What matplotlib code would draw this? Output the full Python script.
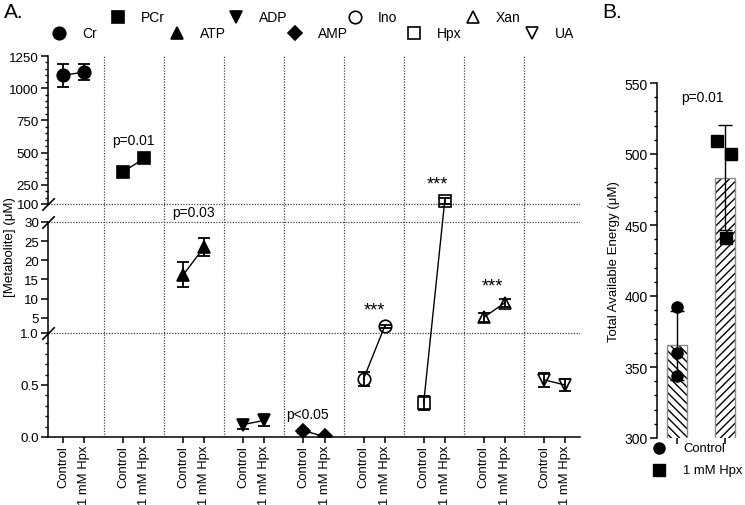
import numpy as np
import matplotlib
matplotlib.use('Agg')
import matplotlib.pyplot as plt
from matplotlib.lines import Line2D

plt.rcParams['font.family'] = ['Liberation Sans', 'DejaVu Sans']
plt.rcParams['font.size'] = 10

# --- panel A data : mean / sd per metabolite (uM)
metabolites = ['Cr', 'PCr', 'ATP', 'ADP', 'AMP', 'Ino', 'Hpx', 'Xan', 'UA']
markers = ['o', 's', '^', 'v', 'D', 'o', 's', '^', 'v']
filled = [True, True, True, True, True, False, False, False, False]
conditions = ['Control', '1 mM Hpx']
ctrl_mean = [1100, 350, 16.2, 0.12, 0.06, 0.56, 0.33, 5.1, 0.55]
ctrl_sd = [90, 30, 3.3, 0.045, 0.02, 0.065, 0.066, 1.1, 0.07]
hpx_mean = [1125, 455, 23.5, 0.16, 0.005, 2.7, 125, 8.9, 0.50]
hpx_sd = [62, 30, 2.3, 0.05, 0.005, 0.4, 25, 1.0, 0.06]

# --- panel B data : total available energy (uM), one value per sample
energy_ctrl = [392, 360, 344]
energy_hpx = [509, 500, 441]

# broken y axis of panel A : piecewise linear scale
brk_val = [0, 1, 30, 100, 1250]
brk_pos = [0, 104, 215, 233, 381]


def fwd(v):
    v = np.asarray(v, float)
    out = np.interp(v, brk_val, brk_pos)
    out = np.where(v < 0, v * 104, out)
    out = np.where(v > 1250, 381 + (v - 1250) * 148 / 1150, out)
    return out


def inv(p):
    p = np.asarray(p, float)
    out = np.interp(p, brk_pos, brk_val)
    out = np.where(p < 0, p / 104, out)
    out = np.where(p > 381, 1250 + (p - 381) * 1150 / 148, out)
    return out


W, H = 745, 506
fig = plt.figure(figsize=(W / 100, H / 100), dpi=100)
axA = fig.add_axes([48 / W, 1 - 438 / H, 532 / W, 381 / H])
axB = fig.add_axes([657 / W, 1 - 439 / H, 88 / W, 355 / H])

# ---------------- panel A
axA.set_yscale('function', functions=(fwd, inv))
axA.set_ylim(0, 1250)
gap = 0.35
axA.set_xlim(-0.25, len(metabolites) - 1 + 0.6)

dot = dict(color='#444444', lw=0.9, ls=(0, (1, 1.2)), zorder=1)
for v in [1, 30, 100]:
    axA.axhline(v, **dot)
for i in range(len(metabolites) - 1):
    axA.axvline(i + (1 + gap) / 2, **dot)

xt = []
for i, name in enumerate(metabolites):
    xs = [i, i + gap]
    ys = [ctrl_mean[i], hpx_mean[i]]
    axA.plot(xs, ys, color='black', lw=1, zorder=2)
    axA.errorbar(xs, ys, yerr=[ctrl_sd[i], hpx_sd[i]], fmt='none', ecolor='black',
                 elinewidth=1.3, capsize=4.5, capthick=1.3, zorder=3)
    ms = 7 if markers[i] == 'D' else 9
    axA.plot(xs, ys, ls='none', marker=markers[i], ms=ms,
             mfc='black' if filled[i] else 'none', mec='black', mew=1.2, zorder=4)
    xt += xs

axA.set_xticks(xt)
axA.set_xticklabels(conditions * len(metabolites), rotation=90, va='top', ha='center',
                    fontsize=9.4)

ymaj = [0, 0.5, 1, 5, 10, 15, 20, 25, 30, 100, 250, 500, 750, 1000, 1250]
axA.set_yticks(ymaj)
axA.set_yticklabels(['0.0', '0.5', '1.0', '5', '10', '15', '20', '25', '30',
                     '100', '250', '500', '750', '1000', '1250'], fontsize=9.6)
ymin = [0.1, 0.2, 0.3, 0.4, 0.6, 0.7, 0.8, 0.9] + \
       [v for v in range(150, 1250, 50) if v not in ymaj]
axA.set_yticks(ymin, minor=True)
axA.tick_params(axis='y', which='major', direction='out', length=5, width=1.1, pad=1.5)
axA.tick_params(axis='x', which='major', direction='out', length=4, width=1.1, pad=1.5)
axA.tick_params(axis='y', which='minor', direction='out', length=2.5, width=1)
axA.spines['top'].set_visible(False)
axA.spines['right'].set_visible(False)
for s in ['left', 'bottom']:
    axA.spines[s].set_linewidth(1.1)
axA.spines['left'].set_bounds(100, 1250)
axA.plot([0, 0], [0, 30], color='black', lw=1.1, transform=axA.get_yaxis_transform(),
         clip_on=False, zorder=5)
for v in [1, 30, 100]:
    axA.plot([0], [v], marker=[(-1, -1), (1, 1)], ms=9, mew=1.2, color='black',
             transform=axA.get_yaxis_transform(), clip_on=False, zorder=6)
axA.set_ylabel('[Metabolite] (\u03bcM)', fontsize=9.5)
axA.yaxis.set_label_coords(-0.06, 0.5)

axA.text(1 + gap / 2, 600, 'p=0.01', ha='center', va='center')
axA.text(2 + gap / 2, 68, 'p=0.03', ha='center', va='center')
axA.text(4.07, 0.22, 'p<0.05', ha='center', va='center')
axA.text(5 + gap / 2, 7.0, '***', ha='center', va='center', fontsize=13)
axA.text(6 + 0.22, 256, '***', ha='center', va='center', fontsize=13)
axA.text(7 + 0.15, 13.3, '***', ha='center', va='center', fontsize=13)

# staggered legend above panel A
for i, name in enumerate(metabolites):
    px = 59 + 59.1 * i
    py = 34 if i % 2 == 0 else 18
    ms = 7 if markers[i] == 'D' else 9
    fig.add_artist(Line2D([px / W], [1 - py / H], marker=markers[i], ms=ms, ls='none',
                          mfc='black' if filled[i] else 'none', mec='black', mew=1.2,
                          transform=fig.transFigure))
    fig.text((px + 23) / W, 1 - py / H, name, ha='left', va='center')

fig.text(4 / W, 1 - 12 / H, 'A.', fontsize=15, va='center')
fig.text(602 / W, 1 - 12 / H, 'B.', fontsize=15, va='center')

# ---------------- panel B
groups = [energy_ctrl, energy_hpx]
means = [np.mean(g) for g in groups]
sds = [np.std(g, ddof=1) for g in groups]
xb = [0, 1]
hatches = ['\\\\\\\\', '////']
for j in range(2):
    axB.bar(xb[j], means[j], width=0.42, color='white', edgecolor='black', lw=0,
            hatch=hatches[j], zorder=1)
    axB.bar(xb[j], means[j], width=0.42, fill=False, edgecolor='#8a8a8a', lw=1, zorder=2)
axB.errorbar(xb, means, yerr=sds, fmt='none', ecolor='black', elinewidth=1,
             capsize=5, capthick=1, zorder=3)
jitter = [[0, 0, 0], [-0.17, 0.125, 0.02]]
axB.plot(np.array(jitter[0]) + xb[0], energy_ctrl, 'o', color='black', ms=8, zorder=4)
axB.plot(np.array(jitter[1]) + xb[1], energy_hpx, 's', color='black', ms=8, zorder=4)
axB.set_xlim(-0.417, 1.417)
axB.set_ylim(300, 550)
axB.set_yticks(np.arange(300, 551, 50))
axB.set_yticks(np.arange(300, 551, 10), minor=True)
axB.set_xticks(xb)
axB.set_xticklabels([])
axB.tick_params(axis='y', which='major', direction='out', length=5, width=1.1, pad=1.5)
axB.tick_params(axis='x', which='major', direction='out', length=4, width=1.1)
axB.tick_params(axis='y', which='minor', direction='out', length=2.5, width=1)
for s in ['top', 'right', 'bottom']:
    axB.spines[s].set_visible(False)
axB.spines['left'].set_linewidth(1.1)
axB.set_ylabel('Total Available Energy (\u03bcM)', fontsize=9.5)
axB.yaxis.set_label_coords(-0.42, 0.5)
axB.text(0.52, 540, 'p=0.01', ha='center', va='center')

for k, (mk, lab) in enumerate([('o', 'Control'), ('s', '1 mM Hpx')]):
    py = 449 + 22 * k
    fig.add_artist(Line2D([659 / W], [1 - py / H], marker=mk, ms=8, ls='none',
                          color='black', transform=fig.transFigure))
    fig.text(683 / W, 1 - py / H, lab, ha='left', va='center', fontsize=9.4)

fig.savefig('out.png', dpi=100)
